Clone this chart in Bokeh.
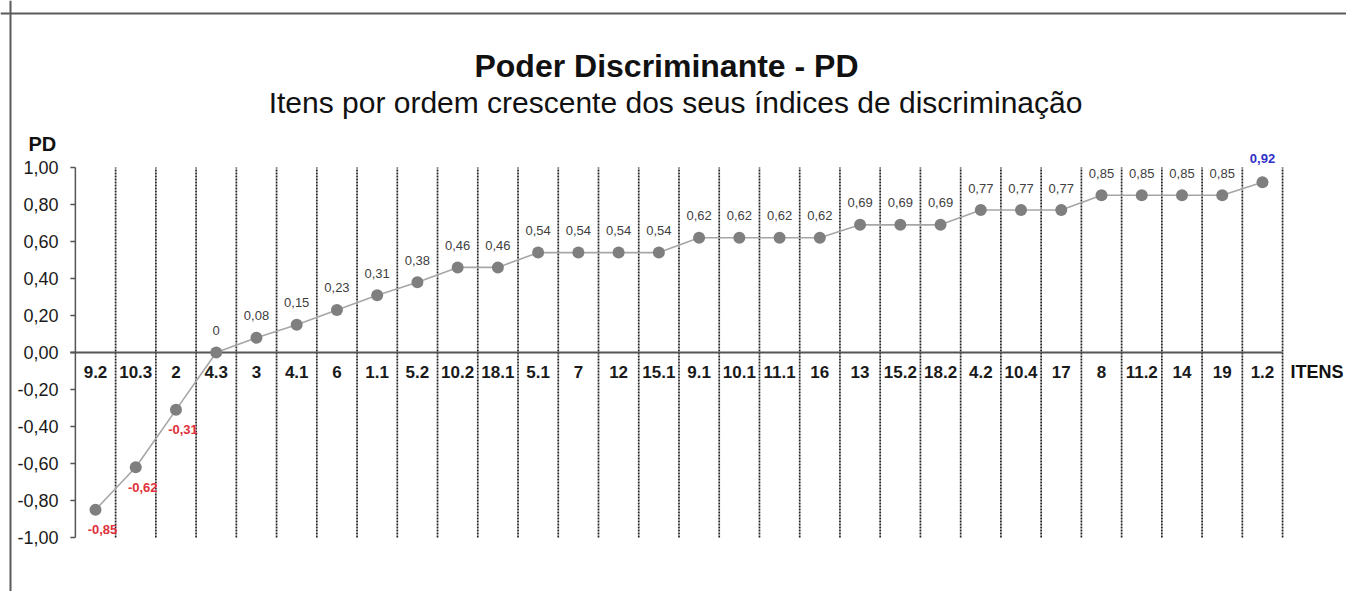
from bokeh.plotting import figure
from bokeh.models import ColumnDataSource, Range1d, Span
from bokeh.core.properties import value
from bokeh.embed import file_html
from bokeh.resources import INLINE

# ---------------- data ----------------
items = ["9.2", "10.3", "2", "4.3", "3", "4.1", "6", "1.1", "5.2", "10.2",
         "18.1", "5.1", "7", "12", "15.1", "9.1", "10.1", "11.1", "16", "13",
         "15.2", "18.2", "4.2", "10.4", "17", "8", "11.2", "14", "19", "1.2"]
pd_values = [-0.85, -0.62, -0.31, 0.00, 0.08, 0.15, 0.23, 0.31, 0.38, 0.46,
             0.46, 0.54, 0.54, 0.54, 0.54, 0.62, 0.62, 0.62, 0.62, 0.69,
             0.69, 0.69, 0.77, 0.77, 0.77, 0.85, 0.85, 0.85, 0.85, 0.92]
y_ticks = [-1.0, -0.8, -0.6, -0.4, -0.2, 0.0, 0.2, 0.4, 0.6, 0.8, 1.0]
y_tick_labels = ["-1,00", "-0,80", "-0,60", "-0,40", "-0,20", "0,00",
                 "0,20", "0,40", "0,60", "0,80", "1,00"]
title_text = "Poder Discriminante - PD"
subtitle_text = "Itens por ordem crescente dos seus índices de discriminação"
y_title = "PD"
x_title = "ITENS"

# ---------------- layout constants ----------------
W, H = 1346, 591
PAGE_LEFT, PAGE_TOP = 0, 0
PX_X = 40.24          # pixels per category
PX_Y = 185.0          # pixels per PD unit
X0_PAGE = 95.0        # page x of first category centre
Y0_PAGE = 352.0       # page y of PD = 0

def dx(page_x):
    return (page_x - X0_PAGE) / PX_X

def dy(page_y):
    return (Y0_PAGE - page_y) / PX_Y

x_start = dx(PAGE_LEFT)
x_end = x_start + W / PX_X
y_end = dy(PAGE_TOP)
y_start = y_end - H / PX_Y

FONT = value("Liberation Sans")

p = figure(width=W, height=H, output_backend="svg", toolbar_location=None,
           x_range=Range1d(x_start, x_end), y_range=Range1d(y_start, y_end),
           x_axis_location=None, y_axis_location=None,
           min_border=0, min_border_left=0, min_border_right=0,
           min_border_top=0, min_border_bottom=0)
p.outline_line_color = None
p.grid.visible = False
p.background_fill_color = "white"
p.border_fill_color = "white"

n = len(items)
idx = list(range(n))

# outer chart-area frame (top + left visible)
p.add_layout(Span(location=dx(10), dimension="height", line_color="#5a5a5a", line_width=2))
p.add_layout(Span(location=dy(13), dimension="width", line_color="#5a5a5a", line_width=2))

# dotted category separators
sep_x = [i + 0.5 for i in idx]
p.segment(x0=sep_x, y0=[y_ticks[0]] * n, x1=sep_x, y1=[y_ticks[-1]] * n,
          line_color="#222222", line_width=1.7, line_dash="2 1")

# y axis
ax_x = -0.5
tick_len = 5 / PX_X
p.segment(x0=[ax_x], y0=[y_ticks[0]], x1=[ax_x], y1=[y_ticks[-1]],
          line_color="#555555", line_width=1.5)
p.segment(x0=[ax_x - tick_len] * len(y_ticks), y0=y_ticks,
          x1=[ax_x] * len(y_ticks), y1=y_ticks,
          line_color="#555555", line_width=1.5)
p.text(x=[dx(58)] * len(y_ticks), y=y_ticks, text=y_tick_labels,
       text_font=FONT, text_font_size="18px", text_color="#1a1a1a",
       text_align="right", text_baseline="middle")

# x axis line at PD = 0
p.segment(x0=[ax_x - tick_len], y0=[0], x1=[n - 0.5], y1=[0],
          line_color="#555555", line_width=2)

# category labels
p.text(x=idx, y=[0] * n, text=items, y_offset=19,
       text_font=FONT, text_font_size="17px", text_font_style="bold",
       text_color="#1a1a1a", text_align="center", text_baseline="middle")

# series line and points
p.line(idx, pd_values, line_color="#a6a6a6", line_width=1.6)
p.scatter(idx, pd_values, size=12, fill_color="#7f7f7f", line_color=None)

# data labels
vmax = max(pd_values)
pos = ColumnDataSource(dict(
    x=[i for i, v in zip(idx, pd_values) if 0 <= v < vmax],
    y=[v for v in pd_values if 0 <= v < vmax],
    t=[("%.2f" % v).replace(".", ",") if v != 0 else "0"
       for v in pd_values if 0 <= v < vmax]))
neg = ColumnDataSource(dict(
    x=[i for i, v in zip(idx, pd_values) if v < 0],
    y=[v for v in pd_values if v < 0],
    t=[("%.2f" % v).replace(".", ",") for v in pd_values if v < 0]))
top = ColumnDataSource(dict(
    x=[i for i, v in zip(idx, pd_values) if v == vmax],
    y=[v for v in pd_values if v == vmax],
    t=[("%.2f" % v).replace(".", ",") for v in pd_values if v == vmax]))

p.text(x="x", y="y", text="t", source=pos, y_offset=-22,
       text_font=FONT, text_font_size="13px", text_color="#404040",
       text_align="center", text_baseline="middle")
p.text(x="x", y="y", text="t", source=neg, y_offset=20, x_offset=7,
       text_font=FONT, text_font_size="13px", text_font_style="bold",
       text_color="#e0303a", text_align="center", text_baseline="middle")
p.text(x="x", y="y", text="t", source=top, y_offset=-24,
       text_font=FONT, text_font_size="13px", text_font_style="bold",
       text_color="#3030c8", text_align="center", text_baseline="middle")

# titles and axis titles
p.text(x=[dx(666)], y=[dy(65)], text=[title_text],
       text_font=FONT, text_font_size="32px", text_font_style="bold",
       text_color="#111111", text_align="center", text_baseline="alphabetic")
p.text(x=[dx(675)], y=[dy(102)], text=[subtitle_text],
       text_font=FONT, text_font_size="30px",
       text_color="#111111", text_align="center", text_baseline="alphabetic")
p.text(x=[dx(28)], y=[dy(143)], text=[y_title],
       text_font=FONT, text_font_size="20px", text_font_style="bold",
       text_color="#111111", text_align="left", text_baseline="alphabetic")
p.text(x=[dx(1290)], y=[0], text=[x_title], y_offset=19,
       text_font=FONT, text_font_size="18px", text_font_style="bold",
       text_color="#111111", text_align="left", text_baseline="middle")

open("out.html", "w").write(file_html(p, INLINE))
